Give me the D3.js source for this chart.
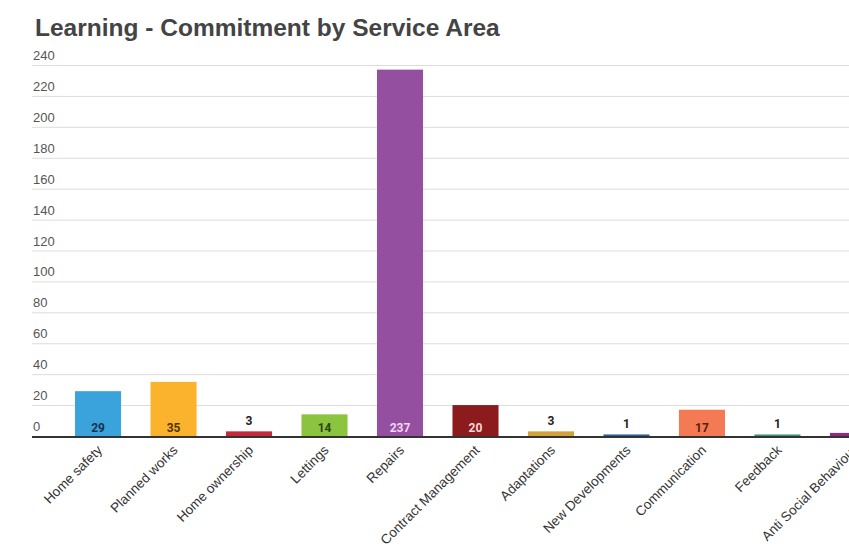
<!DOCTYPE html>
<html>
<head>
<meta charset="utf-8">
<script src="https://cdn.jsdelivr.net/npm/d3@7"></script>
<style>
  html, body { margin: 0; padding: 0; background: #fff; }
  svg { display: block; }
</style>
</head>
<body>
<svg id="chart" width="849" height="552"></svg>
<script>
// Learning commitments counted per service area
const categories = ["Home safety", "Planned works", "Home ownership", "Lettings", "Repairs",
  "Contract Management", "Adaptations", "New Developments", "Communication", "Feedback",
  "Anti Social Behaviour"];
const values = [29, 35, 3, 14, 237, 20, 3, 1, 17, 1, 2];
const barColors = ["#3aa3dc", "#fbb32d", "#c62a3a", "#8cc43f", "#944fa1", "#8c1b1d",
  "#d4a23c", "#2b5f8e", "#f47a54", "#3f9472", "#8d2c7d"];
const labelColors = ["#16324f", "#4f3208", "#222", "#2a4510", "#f3d6f3", "#f6d7d7",
  "#222", "#222", "#55200e", "#222", "#222"];
const yTicks = [0, 20, 40, 60, 80, 100, 120, 140, 160, 180, 200, 220, 240];
const title = "Learning - Commitment by Service Area";

const svg = d3.select("#chart");
const plotLeft = 32, plotRight = 919, plotTop = 65, plotBottom = 436;

const x = d3.scaleBand().domain(categories).range([plotLeft, plotRight])
  .paddingInner(0.39).paddingOuter(0.57);
const y = d3.scaleLinear().domain([0, 240]).range([plotBottom, plotTop]);

svg.append("text")
  .attr("x", 35).attr("y", 36)
  .attr("font-family", "Liberation Sans, Arial, sans-serif")
  .attr("font-weight", "bold").attr("font-size", 24.5)
  .attr("fill", "#444")
  .text(title);

// horizontal gridlines with labels sitting just above them
const grid = svg.append("g");
grid.selectAll("line").data(yTicks.filter(d => d > 0)).join("line")
  .attr("x1", plotLeft).attr("x2", 849)
  .attr("y1", d => y(d) + 0.5).attr("y2", d => y(d) + 0.5)
  .attr("stroke", "#dcdcdc").attr("stroke-width", 1);
grid.selectAll("text").data(yTicks).join("text")
  .attr("x", plotLeft + 1).attr("y", d => y(d) - 5)
  .attr("font-family", "Liberation Sans, Arial, sans-serif").attr("font-size", 13)
  .attr("fill", "#555")
  .text(d => d);

// bars
svg.append("g").selectAll("rect").data(values).join("rect")
  .attr("x", (d, i) => x(categories[i]))
  .attr("width", x.bandwidth())
  .attr("y", d => y(d))
  .attr("height", d => plotBottom - y(d))
  .attr("fill", (d, i) => barColors[i]);

// value labels: inside the bar base when there is room, otherwise above
svg.append("g").selectAll("text").data(values).join("text")
  .attr("x", (d, i) => x(categories[i]) + x.bandwidth() / 2)
  .attr("y", d => (plotBottom - y(d) > 16 ? plotBottom - 4 : y(d) - 6))
  .attr("text-anchor", "middle")
  .attr("font-family", "Roboto, sans-serif").attr("font-weight", "bold")
  .attr("font-size", 12)
  .attr("fill", (d, i) => (plotBottom - y(d) > 16 ? labelColors[i] : "#222"))
  .text(d => d);

// baseline
svg.append("line")
  .attr("x1", plotLeft).attr("x2", 849)
  .attr("y1", plotBottom + 1).attr("y2", plotBottom + 1)
  .attr("stroke", "#333").attr("stroke-width", 2);

// rotated category labels
svg.append("g").selectAll("text").data(categories).join("text")
  .attr("transform", d => `translate(${x(d) + x.bandwidth() / 2 + 5},${plotBottom + 15}) rotate(-45)`)
  .attr("text-anchor", "end")
  .attr("font-family", "Liberation Sans, Arial, sans-serif").attr("font-size", 13.5)
  .attr("fill", "#333")
  .text(d => d);
</script>
</body>
</html>
